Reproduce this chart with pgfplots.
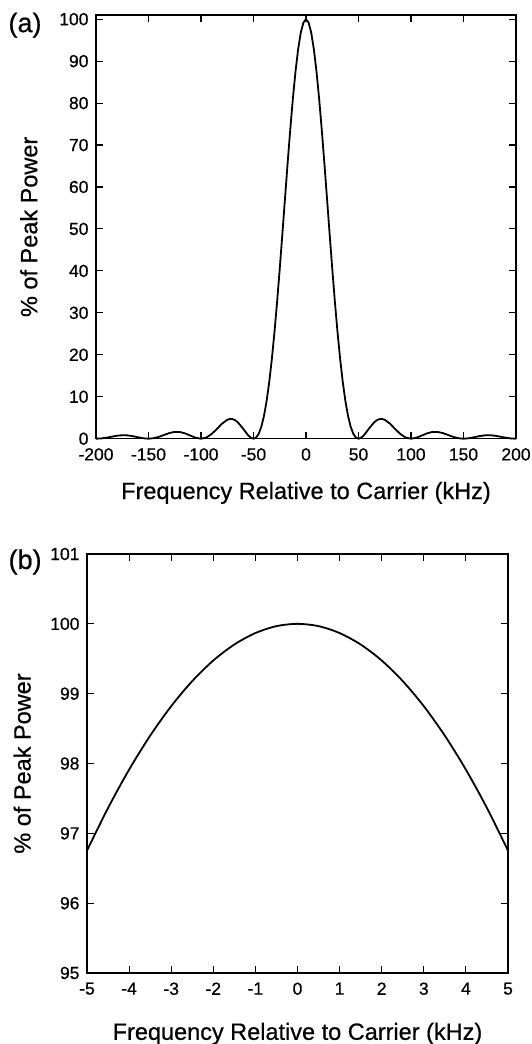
\documentclass[border=0pt]{standalone}
\usepackage{fontspec}
\setmainfont{Liberation Sans}[BoldFont={Liberation Sans}, BoldFeatures={FakeBold=0.6}]
\usepackage{pgfplots}
\pgfplotsset{compat=1.18}
\begin{document}
\begin{tikzpicture}
\useasboundingbox (0,0) rectangle (531pt,1044pt);
\pgfplotsset{
  myax/.style={
    scale only axis,
    axis line style={line width=1.3pt},
    every tick/.style={line width=1.1pt, black},
    major tick length=7pt,
    tick align=inside,
    /pgf/number format/assume math mode=true,
    every tick label/.append style={font=\fontsize{17.5}{19}\selectfont\bfseries},
    xticklabel style={font=\fontsize{17.5}{19}\selectfont\bfseries, yshift=-6pt},
    yticklabel style={font=\fontsize{17.5}{19}\selectfont\bfseries, xshift=-4pt},
    every axis label/.append style={font=\fontsize{23.5}{26}\selectfont\bfseries},
    clip=false,
  }
}
\begin{axis}[myax,
  at={(96pt,605.3pt)}, anchor=south west,
  width=420pt, height=423.7pt,
  xmin=-200, xmax=200, ymin=0, ymax=101,
  xtick={-200,-150,...,200}, ytick={0,10,...,100},
  xlabel={Frequency Relative to Carrier (kHz)},
  ylabel={\% of Peak Power},
  xlabel style={at={(axis description cs:0.5,-0.128)}, anchor=center},
  ylabel style={at={(axis description cs:-0.16,0.5)}, anchor=center},
]
\addplot[black, line width=1.8pt] coordinates {
(-200,0) (-195,0.06) (-190,0.24) (-185,0.48) (-180,0.71) (-175,0.83) (-170,0.79) (-165,0.61) (-160,0.34) (-155,0.10)
(-150,0) (-145,0.12) (-140,0.45) (-135,0.91) (-130,1.36) (-125,1.62) (-120,1.59) (-115,1.25) (-110,0.72) (-105,0.22)
(-100,0) (-95,0.27) (-90,1.08) (-85,2.29) (-80,3.58) (-75,4.50) (-72.5,4.70) (-70,4.68) (-67.5,4.41) (-65,3.92) (-60,2.43) (-57.5,1.58) (-55,0.80) (-52.5,0.22)
(-50,0) (-47.5,0.27) (-45,1.19) (-42.5,2.89) (-40,5.47) (-37.5,9.01) (-35,13.53) (-32.5,19.04) (-30,25.46) (-27.5,32.67)
(-25,40.53) (-22.5,48.81) (-20,57.28) (-17.5,65.66) (-15,73.68) (-12.5,81.06) (-10,87.51) (-7.5,92.81) (-5,96.75) (-2.5,99.18)
(0,100)
(2.5,99.18) (5,96.75) (7.5,92.81) (10,87.51) (12.5,81.06) (15,73.68) (17.5,65.66) (20,57.28) (22.5,48.81) (25,40.53)
(27.5,32.67) (30,25.46) (32.5,19.04) (35,13.53) (37.5,9.01) (40,5.47) (42.5,2.89) (45,1.19) (47.5,0.27) (50,0)
(52.5,0.22) (55,0.80) (57.5,1.58) (60,2.43) (65,3.92) (67.5,4.41) (70,4.68) (72.5,4.70) (75,4.50) (80,3.58) (85,2.29) (90,1.08) (95,0.27)
(100,0) (105,0.22) (110,0.72) (115,1.25) (120,1.59) (125,1.62) (130,1.36) (135,0.91) (140,0.45) (145,0.12)
(150,0) (155,0.10) (160,0.34) (165,0.61) (170,0.79) (175,0.83) (180,0.71) (185,0.48) (190,0.24) (195,0.06) (200,0)
};
\node[font=\fontsize{27}{30}\selectfont\bfseries] at (axis description cs:-0.169,0.976) {(a)};
\end{axis}

\begin{axis}[myax,
  at={(87pt,71pt)}, anchor=south west,
  width=421pt, height=419pt,
  xmin=-5, xmax=5, ymin=95, ymax=101,
  xtick={-5,-4,...,5}, ytick={95,96,...,101},
  xlabel={Frequency Relative to Carrier (kHz)},
  ylabel={\% of Peak Power},
  xlabel style={at={(axis description cs:0.5,-0.145)}, anchor=center},
  ylabel style={at={(axis description cs:-0.154,0.5)}, anchor=center},
]
\addplot[black, line width=1.8pt, smooth] coordinates {
(-5,96.753) (-4.5,97.363) (-4,97.912) (-3.5,98.398) (-3,98.821) (-2.5,99.180) (-2,99.475) (-1.5,99.704) (-1,99.868) (-0.5,99.967)
(0,100)
(0.5,99.967) (1,99.868) (1.5,99.704) (2,99.475) (2.5,99.180) (3,98.821) (3.5,98.398) (4,97.912) (4.5,97.363) (5,96.753)
};
\node[font=\fontsize{27}{30}\selectfont\bfseries] at (axis description cs:-0.147,0.981) {(b)};
\end{axis}
\end{tikzpicture}
\end{document}
